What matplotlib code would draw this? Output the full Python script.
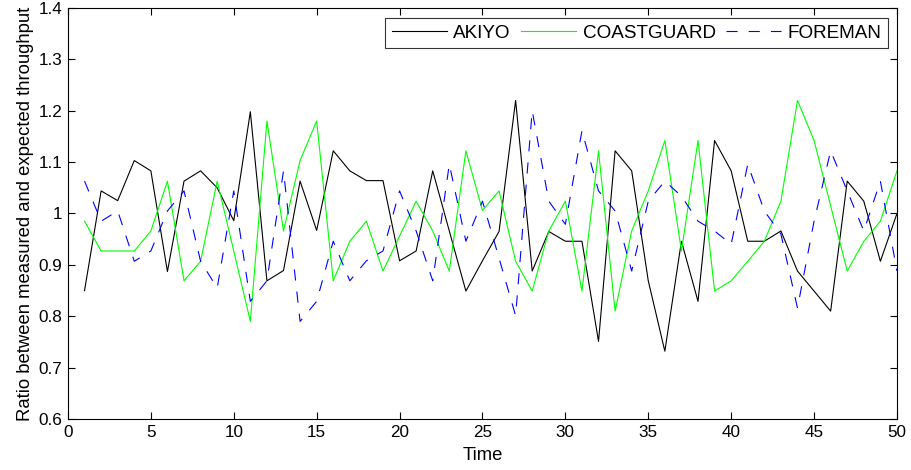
"""
Ratio between measured and expected throughput for three test sequences
"""
import matplotlib
matplotlib.use("Agg")
from matplotlib import pyplot as plt
from matplotlib.ticker import FormatStrFormatter

time = list(range(1, 51))

akiyo = [0.850, 1.044, 1.025, 1.103, 1.083, 0.887, 1.063, 1.083, 1.050, 0.986,
         1.198, 0.869, 0.889, 1.063, 0.967, 1.122, 1.083, 1.064, 1.064, 0.908,
         0.927, 1.083, 0.966, 0.849, 0.908, 0.965, 1.220, 0.888, 0.965, 0.946,
         0.946, 0.751, 1.122, 1.083, 0.869, 0.732, 0.946, 0.829, 1.142, 1.083,
         0.946, 0.946, 0.966, 0.888, 0.849, 0.810, 1.063, 1.024, 0.907, 1.000]

coastguard = [0.985, 0.927, 0.927, 0.927, 0.966, 1.063, 0.869, 0.907, 1.063, 0.927,
              0.790, 1.180, 0.966, 1.103, 1.180, 0.869, 0.946, 0.985, 0.888, 0.956,
              1.024, 0.966, 0.888, 1.122, 1.006, 1.044, 0.907, 0.849, 0.966, 1.024,
              0.849, 1.122, 0.810, 0.966, 1.044, 1.142, 0.927, 1.142, 0.849, 0.869,
              0.907, 0.946, 1.024, 1.220, 1.142, 1.015, 0.888, 0.946, 0.985, 1.083]

foreman = [1.063, 0.985, 1.005, 0.907, 0.927, 1.005, 1.044, 0.907, 0.855, 1.044,
           0.829, 0.869, 1.083, 0.790, 0.829, 0.946, 0.869, 0.908, 0.927, 1.044,
           0.966, 0.869, 1.096, 0.946, 1.024, 0.913, 0.801, 1.200, 1.024, 0.979,
           1.161, 1.044, 1.005, 0.888, 1.024, 1.063, 1.034, 0.985, 0.966, 0.940,
           1.096, 1.005, 0.960, 0.816, 0.985, 1.122, 1.044, 0.966, 1.063, 0.888]

x_ticks = [0, 5, 10, 15, 20, 25, 30, 35, 40, 45, 50]
y_ticks = [0.6, 0.7, 0.8, 0.9, 1.0, 1.1, 1.2, 1.3, 1.4]

plt.rcParams['font.family'] = ['Liberation Sans', 'DejaVu Sans']

fig = plt.figure(figsize=(9.11, 4.70), dpi=100)
ax = fig.add_axes([0.0746, 0.1085, 0.91, 0.8745])

ax.plot(time, akiyo, color='black', lw=0.8, label='AKIYO')
ax.plot(time, coastguard, color='#00ff00', lw=0.8, label='COASTGUARD')
ax.plot(time, foreman, color='blue', lw=0.8, linestyle=(0, (10, 10)),
        label='FOREMAN')

ax.set_xlim(0, 50)
ax.set_ylim(0.6, 1.4)
ax.set_xticks(x_ticks)
ax.set_yticks(y_ticks)
ax.yaxis.set_major_formatter(FormatStrFormatter('%g'))
ax.tick_params(direction='in', top=True, right=True, length=5, width=0.8,
               labelsize=12.3, pad=4)
for sp in ax.spines.values():
    sp.set_linewidth(0.8)

ax.set_xlabel('Time', fontsize=13.3, labelpad=5)
ax.set_ylabel('Ratio between measured and expected throughput',
              fontsize=13.3, labelpad=3)

leg = ax.legend(loc='upper right', ncol=3, frameon=True, fancybox=False,
                edgecolor='black', fontsize=13.6, handlelength=2.9,
                handletextpad=0.35, columnspacing=0.55, borderpad=0.35,
                borderaxespad=0, bbox_to_anchor=(0.989, 0.976))
leg.get_frame().set_linewidth(0.8)

fig.savefig('out.png', dpi=100)
